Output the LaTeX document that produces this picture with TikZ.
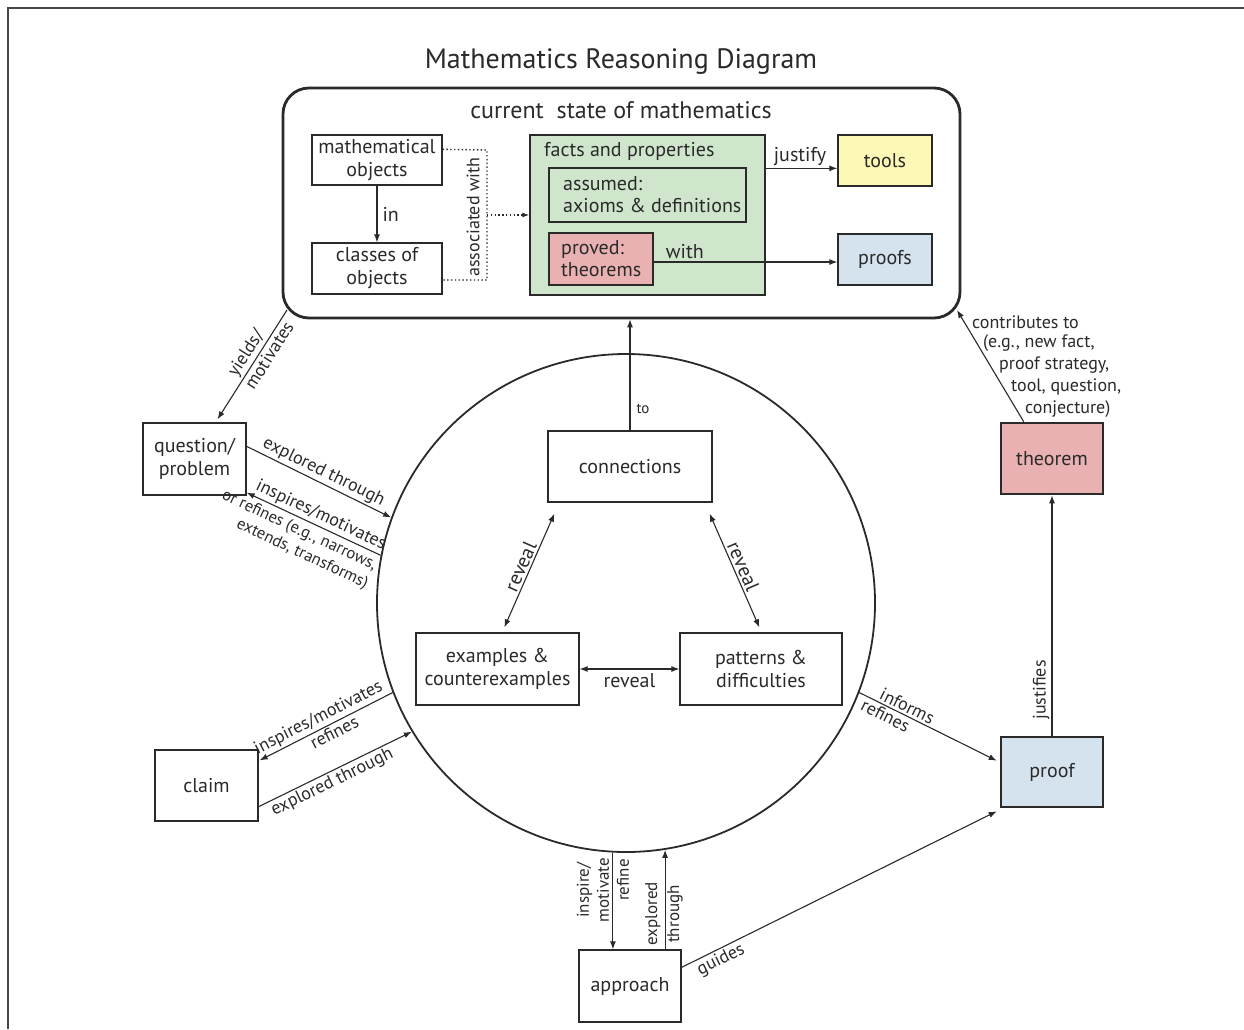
\documentclass[tikz,border=0pt]{standalone}
\usepackage{fontspec}
\setmainfont{PT Sans}
\usetikzlibrary{arrows.meta,calc}

\definecolor{ink}{HTML}{2A2A2A}
\definecolor{framegray}{HTML}{474747}
\definecolor{factgreen}{HTML}{CFE6CC}
\definecolor{thmpink}{HTML}{E9B1B1}
\definecolor{toolyellow}{HTML}{FDF8B5}
\definecolor{proofblue}{HTML}{D5E3EE}

\begin{document}
\begin{tikzpicture}[x=1pt,y=-1pt,
  every node/.style={text=ink},
  txt/.style={font=\fontsize{20}{23}\selectfont},
  lbl/.style={font=\fontsize{18}{21}\selectfont, inner sep=2pt},
  box/.style={draw=ink, line width=1.3pt, align=center, inner sep=0pt, fill=white, txt},
  heavybox/.style={box, line width=2.6pt},
  conn/.style={draw=ink, line width=1.1pt},
  arr/.style={conn, -{Latex[length=8pt,width=6pt]}},
  biarr/.style={conn, {Latex[length=8pt,width=6pt]}-{Latex[length=8pt,width=6pt]}},
  assoc/.style={draw=ink, line width=1.4pt, dash pattern=on 1.4pt off 2.4pt}]

\useasboundingbox (0,0) rectangle (1244,1029);
\fill[white] (0,0) rectangle (1244,1029);

% page frame on the top and left edges
\draw[framegray, line width=2.6pt] (8,1029) -- (8,8) -- (1244,8);

% title
\node[font=\fontsize{28}{32}\selectfont] (title) at (621,62) {Mathematics Reasoning Diagram};

% current state of mathematics
\node[draw=ink, line width=2.8pt, rounded corners=26pt, minimum width=677, minimum height=230, inner sep=0pt] (state) at (621.5,203) {};
\node[font=\fontsize{24}{28}\selectfont] (statettl) at (621,110) {current\ \ state of mathematics};

\node[box, minimum width=130, minimum height=50] (mobj) at (377,160) {mathematical\\objects};
\node[box, minimum width=130, minimum height=51] (cls) at (377,268.5) {classes of\\objects};
\draw[arr] (mobj.south) -- node[right, txt, inner sep=5pt] (inlbl) {in} (cls.north);

\coordinate (jtop) at (487,150);
\coordinate (jbot) at (487,280);
\draw[assoc] ($(mobj.north east)+(0,15)$) -- (jtop) -- (jbot) -- (cls.east |- jbot);
\node[font=\fontsize{18}{21}\selectfont, rotate=90] (asslbl) at (473,217) {associated with};

\node[draw=ink, line width=1.3pt, fill=factgreen, minimum width=235, minimum height=160, inner sep=0pt] (facts) at (647.5,215) {};
\node[txt, anchor=west, inner sep=0pt] (factsttl) at (544,151) {facts and properties};
\node[draw=ink, line width=1.3pt, minimum width=197, minimum height=54, inner sep=0pt] (assumed) at (647.5,195) {};
\node[font=\fontsize{20}{22}\selectfont, anchor=west, align=left, inner sep=0pt] (assumedtxt) at (563,195) {assumed:\\axioms \& definitions};
\node[box, fill=thmpink, minimum width=104, minimum height=52] (proved) at (601,259) {};
\node[font=\fontsize{20}{22}\selectfont, anchor=west, align=left, inner sep=0pt] (provedtxt) at (561,259) {proved:\\theorems};

\draw[assoc, -{Latex[length=7pt,width=5pt]}] ($(jtop)!0.5!(jbot)$) -- (facts.west);

\node[box, fill=toolyellow, minimum width=94, minimum height=51] (tools) at (885,160.5) {tools};
\node[box, fill=proofblue, minimum width=94, minimum height=51] (proofs) at (885,259.5) {proofs};

\draw[arr] ($(facts.north east)+(0,34)$) -- node[above, txt, inner sep=2pt, pos=0.48] (justlbl) {justify} (tools.west |- {$(facts.north east)+(0,34)$});
\draw[arr] ($(proved.east)+(0,3)$) -- node[above, txt, inner sep=3pt, pos=0.17] (withlbl) {with} (proofs.west |- {$(proved.east)+(0,3)$});

% exploration cycle
\node[draw=ink, line width=1.8pt, circle, minimum size=498, inner sep=0pt] (circ) at (626,603) {};

\node[box, minimum width=164, minimum height=71] (cx) at (630,466.5) {connections};
\node[box, minimum width=163, minimum height=72] (ex) at (497.5,669) {examples \&\\counterexamples};
\node[box, minimum width=162, minimum height=72] (pat) at (761,669) {patterns \&\\difficulties};

\draw[arr] (cx.north) -- node[right, pos=0.19, font=\fontsize{15}{18}\selectfont, inner sep=6pt] (tolbl) {to} (cx.north |- state.south);

\draw[biarr] ($(cx.south west)+(7,11)$) -- node[sloped, above, lbl, font=\fontsize{20}{23}\selectfont, pos=0.5] (rvl) {reveal} ($(ex.north west)+(89,-5)$);
\draw[biarr] ($(cx.south east)+(-3,11)$) -- node[sloped, above, lbl, font=\fontsize{20}{23}\selectfont, pos=0.5] (rvr) {reveal} ($(pat.north west)+(80,-5)$);
\draw[biarr] (ex.east) -- node[below, lbl, font=\fontsize{20}{23}\selectfont, inner sep=4pt] (rvb) {reveal} (pat.west);

% question / problem
\node[box, minimum width=103, minimum height=72] (q) at (194.5,459) {question/\\problem};
\coordinate (yieldsfrom) at (287,310);
\draw[arr] (yieldsfrom) -- node[sloped, above, lbl, pos=0.45] (ylbla) {yields/} node[sloped, below, lbl, pos=0.37] (ylblb) {motivates} ($(q.north)+(23,-3)$);
\draw[arr] ($(q.north east)+(0,24)$) -- node[sloped, above, lbl, pos=0.5] (qexp) {explored through} (circ.160);
\draw[arr] (circ.169) -- node[sloped, above, lbl, pos=0.48] (qins) {inspires/motivates}
  node[sloped, below, lbl, pos=0.57, align=right, inner sep=4pt, font=\fontsize{16.5}{20}\selectfont] (qref) {or refines (e.g., narrows,\\extends, transforms)} ($(q.south east)+(0,-3)$);

% claim
\node[box, minimum width=103, minimum height=71] (claim) at (206.5,785.5) {claim};
\draw[arr] (circ.201.5) -- node[sloped, above, lbl, pos=0.52] (cins) {inspires/motivates}
  node[sloped, below, lbl, pos=0.47] (cref) {refines} ($(claim.north east)+(1,11)$);
\draw[arr] ($(claim.south east)+(0,-15)$) -- node[sloped, below, lbl, pos=0.45] (cexp) {explored through} (circ.211);

% approach
\node[box, minimum width=102, minimum height=72] (appr) at (630,986) {approach};
\draw[arr] (circ.267) -- (appr.north -| circ.267);
\draw[arr] (appr.north -| circ.279) -- (circ.279);
\node[lbl, rotate=90, align=center, font=\fontsize{17}{20}\selectfont] (ainsp) at (593,890) {inspire/\\motivate};
\node[lbl, rotate=90, font=\fontsize{17}{20}\selectfont] (aref) at (623,880) {refine};
\node[lbl, rotate=90, align=center, font=\fontsize{17}{22}\selectfont] (aexp) at (664,914) {explored\\through};

% proof and theorem
\node[heavybox, fill=proofblue, minimum width=102, minimum height=70] (proof) at (1052,772) {proof};
\node[heavybox, fill=thmpink, minimum width=102, minimum height=71] (thm) at (1052,458.5) {theorem};

\draw[arr] (circ.339) -- node[sloped, above, lbl, pos=0.32] (pinf) {informs}
  node[sloped, below, lbl, pos=0.22] (pref) {refines} ($(proof.north west)+(-3,25)$);
\draw[arr] ($(appr.north east)+(0,18)$) -- node[sloped, below, lbl, pos=0.11] (guid) {guides} ($(proof.south west)+(-3,3)$);
\draw[arr] (proof.north) -- node[sloped, above, lbl, pos=0.19] (justf) {justifies} (thm.south);

\coordinate (contribto) at (957,310);
\draw[arr] ($(thm.north west)+(24,0)$) -- (contribto);
\begin{scope}[every node/.style={lbl, anchor=west, inner sep=0pt, text=ink}]
  \node (ct1) at (972,322) {contributes to};
  \node (ct2) at (983,343) {(e.g., new fact,};
  \node (ct3) at (999,365) {proof strategy,};
  \node (ct4) at (1011,387) {tool, question,};
  \node (ct5) at (1025,409) {conjecture)};
\end{scope}

\end{tikzpicture}
\end{document}
